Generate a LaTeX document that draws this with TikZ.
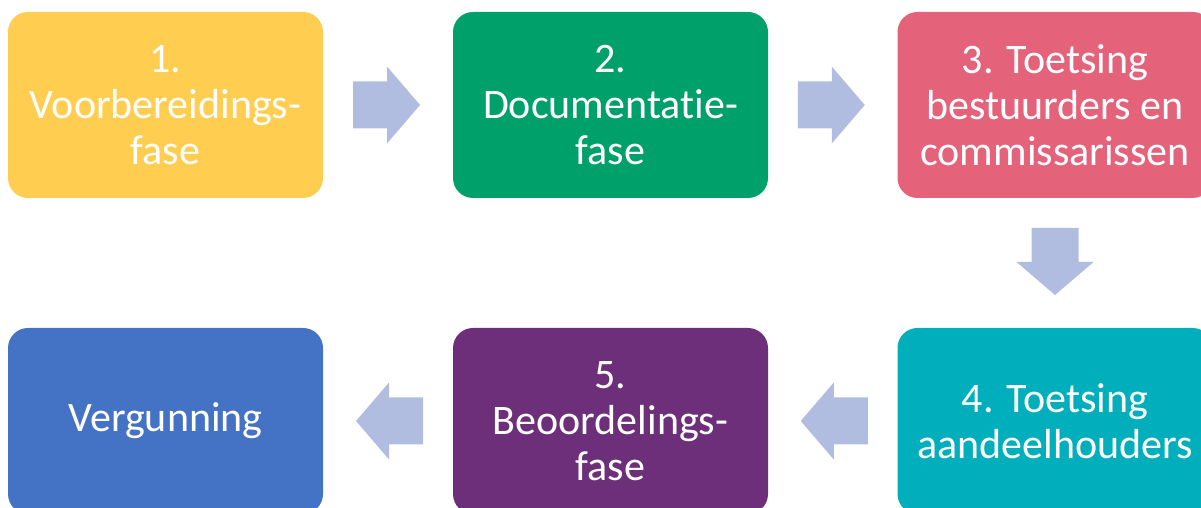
\documentclass[tikz,border=0pt]{standalone}
\usepackage{fontspec}
\setmainfont[Ligatures={NoCommon,NoContextual,NoRare},RawFeature={-dlig}]{Carlito}
\usetikzlibrary{calc}
\definecolor{phaseyellow}{HTML}{FFCD50}
\definecolor{phasegreen}{HTML}{00A06B}
\definecolor{phasepink}{HTML}{E4627A}
\definecolor{phaseteal}{HTML}{00AFBB}
\definecolor{phasepurple}{HTML}{6E2F7A}
\definecolor{phaseblue}{HTML}{4472C4}
\definecolor{arrowfill}{HTML}{B0BDE0}
\tikzset{
  phase/.style={rectangle, rounded corners=20pt, minimum width=315pt,
    minimum height=186pt, inner sep=0pt, align=center, text=white,
    font=\fontsize{42}{46}\selectfont},
  flowarrow/.pic={
    \fill[arrowfill] (-33.5,-23.5) -- (0.5,-23.5) -- (0.5,-38.5) -- (33.5,0)
      -- (0.5,38.5) -- (0.5,23.5) -- (-33.5,23.5) -- cycle;
  }
}
\begin{document}
\begin{tikzpicture}[x=1pt,y=1pt]
\useasboundingbox (0,0) rectangle (1201,508);
\clip (0,0) rectangle (1201,508);
% top row
\node[phase, fill=phaseyellow] (b1) at (165.5,403) {1.\\Voorbereidings-\\fase};
\node[phase, fill=phasegreen]  (b2) at (610.5,403) {2.\\Documentatie-\\fase};
\node[phase, fill=phasepink]   (b3) at (1055,403) {3. Toetsing\\bestuurders en\\commissarissen};
% bottom row
\node[phase, fill=phaseteal]   (b4) at (1055,87) {4. Toetsing\\aandeelhouders};
\node[phase, fill=phasepurple] (b5) at (610.5,87) {5.\\Beoordelings-\\fase};
\node[phase, fill=phaseblue]   (b6) at (165.5,87) {Vergunning};
% block arrows between the phases
\pic (a12) at ($(b1.east)!0.5!(b2.west)+(-1.5,0)$) {flowarrow};
\pic (a23) at ($(b2.east)!0.5!(b3.west)+(-1.5,0)$) {flowarrow};
\pic[rotate=-90] (a34) at ($(b3.south)!0.5!(b4.north)+(0,1.5)$) {flowarrow};
\pic[rotate=180] (a45) at ($(b4.west)!0.5!(b5.east)+(1.5,0)$) {flowarrow};
\pic[rotate=180] (a56) at ($(b5.west)!0.5!(b6.east)+(1.5,0)$) {flowarrow};
\end{tikzpicture}
\end{document}
